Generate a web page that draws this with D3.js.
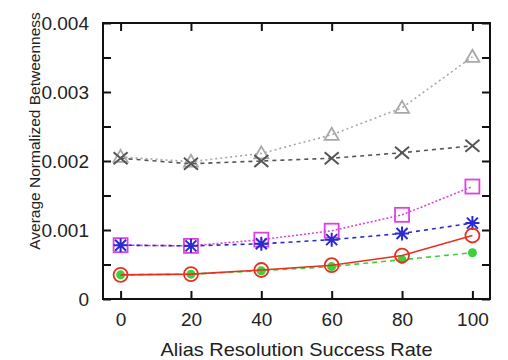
<!DOCTYPE html>
<html>
<head>
<meta charset="utf-8">
<script src="https://cdn.jsdelivr.net/npm/d3@7"></script>
<style>
  html, body { margin: 0; padding: 0; background: #fff; }
  svg { display: block; }
  text { font-family: "Liberation Sans", Arial, sans-serif; fill: #222; }
</style>
</head>
<body>
<svg id="chart" width="508" height="360"></svg>
<script>
// Alias resolution success rate (%)
const rates = [0, 20, 40, 60, 80, 100];

// Average normalized betweenness per series
const seriesTriangle = [0.00206, 0.00199, 0.00211, 0.00238, 0.00277, 0.00351];
const seriesCross    = [0.00204, 0.00196, 0.00200, 0.00204, 0.00212, 0.00222];
const seriesSquare   = [0.00078, 0.00077, 0.00086, 0.00099, 0.00122, 0.00163];
const seriesStar     = [0.00078, 0.00077, 0.00080, 0.00086, 0.00095, 0.00110];
const seriesCircle   = [0.00035, 0.00036, 0.00042, 0.00049, 0.00063, 0.00092];
const seriesDot      = [0.00035, 0.00036, 0.00041, 0.00047, 0.00057, 0.00067];

const xTicks = [0, 20, 40, 60, 80, 100];
const yLabelTicks = [0, 0.001, 0.002, 0.003, 0.004];
const yMinorTicks = [0, 0.0005, 0.001, 0.0015, 0.002, 0.0025, 0.003, 0.0035, 0.004];

const svg = d3.select("#chart");
const L = 103, R = 490, T = 23, B = 299;

const x = d3.scaleLinear().domain([-5, 105]).range([L, R]);
const y = d3.scaleLinear().domain([0, 0.004]).range([B, T]);

const series = [
  { values: seriesTriangle, color: "#a8a8a8", dash: "2,3", marker: "triangle" },
  { values: seriesCross,    color: "#555555", dash: "4,4", marker: "cross" },
  { values: seriesSquare,   color: "#e040e0", dash: "2,2", marker: "square" },
  { values: seriesStar,     color: "#2a2ad0", dash: "4,4", marker: "star" },
  { values: seriesDot,      color: "#3cd03c", dash: "5,4", marker: "dot" },
  { values: seriesCircle,   color: "#e83020", dash: null,  marker: "circle" }
];

// Axes: ticks pointing into the plot on all four sides
const tickLen = 8;
svg.append("g").attr("transform", `translate(0,${B})`)
  .call(d3.axisBottom(x).tickValues(xTicks).tickSize(-tickLen).tickPadding(14))
  .call(g => g.select(".domain").remove());
svg.append("g").attr("transform", `translate(0,${T})`)
  .call(d3.axisTop(x).tickValues(xTicks).tickSize(-tickLen).tickFormat(""))
  .call(g => g.select(".domain").remove());
svg.append("g").attr("transform", `translate(${L},0)`)
  .call(d3.axisLeft(y).tickValues(yMinorTicks).tickSize(-tickLen)
        .tickFormat(d => yLabelTicks.some(v => Math.abs(v - d) < 1e-9) ? (d === 0 ? "0" : d3.format(".3f")(d)) : "")
        .tickPadding(14))
  .call(g => g.select(".domain").remove());
svg.append("g").attr("transform", `translate(${R},0)`)
  .call(d3.axisRight(y).tickValues(yMinorTicks).tickSize(-tickLen).tickFormat(""))
  .call(g => g.select(".domain").remove());

svg.selectAll(".tick line").attr("stroke", "#111").attr("stroke-width", 2);
svg.selectAll(".tick text").attr("font-size", 19).attr("fill", "#222")
  .attr("font-family", "Liberation Sans, Arial, sans-serif");

// Lines and markers
const line = d3.line().x((d, i) => x(rates[i])).y(d => y(d));

series.forEach(s => {
  svg.append("path")
    .datum(s.values)
    .attr("d", line)
    .attr("fill", "none")
    .attr("stroke", s.color)
    .attr("stroke-width", 1.6)
    .attr("stroke-dasharray", s.dash);

  const g = svg.append("g");
  s.values.forEach((v, i) => {
    const cx = x(rates[i]), cy = y(v);
    const m = g.append("g").attr("transform", `translate(${cx},${cy})`);
    if (s.marker === "triangle") {
      m.append("path").attr("d", "M0,-7L7,5L-7,5Z")
        .attr("fill", "none").attr("stroke", s.color).attr("stroke-width", 1.8);
    } else if (s.marker === "cross") {
      m.append("path").attr("d", "M-7,-6L7,6M-7,6L7,-6")
        .attr("stroke", s.color).attr("stroke-width", 2);
    } else if (s.marker === "square") {
      m.append("rect").attr("x", -7).attr("y", -7).attr("width", 14).attr("height", 14)
        .attr("fill", "none").attr("stroke", s.color).attr("stroke-width", 1.8);
    } else if (s.marker === "star") {
      m.append("path").attr("d", "M-7,0L7,0M0,-7L0,7M-5.5,-5.5L5.5,5.5M-5.5,5.5L5.5,-5.5")
        .attr("stroke", s.color).attr("stroke-width", 2);
    } else if (s.marker === "dot") {
      m.append("circle").attr("r", 4.5).attr("fill", s.color);
    } else if (s.marker === "circle") {
      m.append("circle").attr("r", 7)
        .attr("fill", "none").attr("stroke", s.color).attr("stroke-width", 1.8);
    }
  });
});

// Plot frame
svg.append("rect")
  .attr("x", L).attr("y", T).attr("width", R - L).attr("height", B - T)
  .attr("fill", "none").attr("stroke", "#111").attr("stroke-width", 2);

// Axis titles
svg.append("text")
  .attr("x", (L + R) / 2).attr("y", 356)
  .attr("text-anchor", "middle").attr("font-size", 19)
  .attr("textLength", 272).attr("lengthAdjust", "spacingAndGlyphs")
  .text("Alias Resolution Success Rate");

svg.append("text")
  .attr("transform", "translate(40,131) rotate(-90)")
  .attr("text-anchor", "middle").attr("font-size", 15.5)
  .text("Average Normalized Betweenness");
</script>
</body>
</html>
